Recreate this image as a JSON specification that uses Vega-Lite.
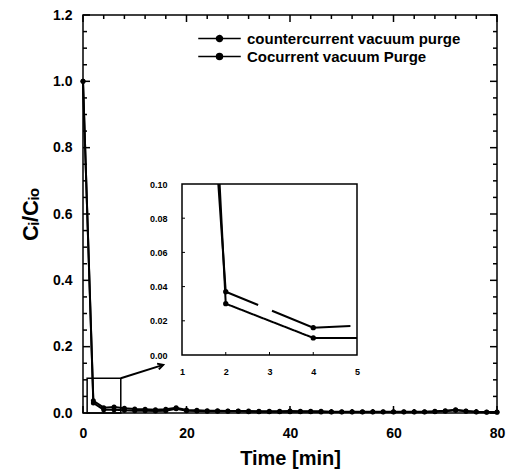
{
  "$schema": "https://vega.github.io/schema/vega-lite/v6.json",
  "width": 414,
  "height": 398,
  "autosize": "none",
  "padding": {"left": 83, "top": 15, "right": 9, "bottom": 60},
  "background": "white",
  "config": {
    "font": "Liberation Sans",
    "view": {"stroke": "black", "strokeWidth": 1.5},
    "axis": {"grid": false, "domain": false, "ticks": false, "tickSize": 0, "labelColor": "black", "titleColor": "black", "labelFontWeight": "bold", "titleFontWeight": "bold", "labelOverlap": false, "labelFlush": false},
    "legend": {"labelFontSize": 15, "labelFontWeight": "bold", "labelColor": "black", "labelLimit": 0}
  },
  "datasets": {
    "xMajor": [{"t": 0}, {"t": 20}, {"t": 40}, {"t": 60}, {"t": 80}],
    "xMinor": [{"t": 4}, {"t": 8}, {"t": 12}, {"t": 16}, {"t": 24}, {"t": 28}, {"t": 32}, {"t": 36}, {"t": 44}, {"t": 48}, {"t": 52}, {"t": 56}, {"t": 64}, {"t": 68}, {"t": 72}, {"t": 76}],
    "yMajor": [{"v": 0}, {"v": 0.2}, {"v": 0.4}, {"v": 0.6}, {"v": 0.8}, {"v": 1.0}, {"v": 1.2}],
    "yMinor": [{"v": 0.05}, {"v": 0.1}, {"v": 0.15}, {"v": 0.25}, {"v": 0.3}, {"v": 0.35}, {"v": 0.45}, {"v": 0.5}, {"v": 0.55}, {"v": 0.65}, {"v": 0.7}, {"v": 0.75}, {"v": 0.85}, {"v": 0.9}, {"v": 0.95}, {"v": 1.05}, {"v": 1.1}, {"v": 1.15}],
    "insetX": [{"t": 2}, {"t": 3}, {"t": 4}],
    "insetY": [{"v": 0.02}, {"v": 0.04}, {"v": 0.06}, {"v": 0.08}],
    "main": [
      {"t": 0, "v": 1.0, "s": "countercurrent vacuum purge"},
      {"t": 2, "v": 0.030, "s": "countercurrent vacuum purge"},
      {"t": 4, "v": 0.010, "s": "countercurrent vacuum purge"},
      {"t": 6, "v": 0.010, "s": "countercurrent vacuum purge"},
      {"t": 8, "v": 0.008, "s": "countercurrent vacuum purge"},
      {"t": 10, "v": 0.007, "s": "countercurrent vacuum purge"},
      {"t": 12, "v": 0.007, "s": "countercurrent vacuum purge"},
      {"t": 14, "v": 0.006, "s": "countercurrent vacuum purge"},
      {"t": 16, "v": 0.007, "s": "countercurrent vacuum purge"},
      {"t": 18, "v": 0.013, "s": "countercurrent vacuum purge"},
      {"t": 20, "v": 0.007, "s": "countercurrent vacuum purge"},
      {"t": 22, "v": 0.006, "s": "countercurrent vacuum purge"},
      {"t": 24, "v": 0.005, "s": "countercurrent vacuum purge"},
      {"t": 26, "v": 0.005, "s": "countercurrent vacuum purge"},
      {"t": 28, "v": 0.005, "s": "countercurrent vacuum purge"},
      {"t": 30, "v": 0.005, "s": "countercurrent vacuum purge"},
      {"t": 32, "v": 0.004, "s": "countercurrent vacuum purge"},
      {"t": 34, "v": 0.004, "s": "countercurrent vacuum purge"},
      {"t": 36, "v": 0.004, "s": "countercurrent vacuum purge"},
      {"t": 38, "v": 0.004, "s": "countercurrent vacuum purge"},
      {"t": 40, "v": 0.004, "s": "countercurrent vacuum purge"},
      {"t": 42, "v": 0.004, "s": "countercurrent vacuum purge"},
      {"t": 44, "v": 0.004, "s": "countercurrent vacuum purge"},
      {"t": 46, "v": 0.003, "s": "countercurrent vacuum purge"},
      {"t": 48, "v": 0.003, "s": "countercurrent vacuum purge"},
      {"t": 50, "v": 0.003, "s": "countercurrent vacuum purge"},
      {"t": 52, "v": 0.003, "s": "countercurrent vacuum purge"},
      {"t": 54, "v": 0.003, "s": "countercurrent vacuum purge"},
      {"t": 56, "v": 0.003, "s": "countercurrent vacuum purge"},
      {"t": 58, "v": 0.003, "s": "countercurrent vacuum purge"},
      {"t": 60, "v": 0.003, "s": "countercurrent vacuum purge"},
      {"t": 62, "v": 0.003, "s": "countercurrent vacuum purge"},
      {"t": 64, "v": 0.003, "s": "countercurrent vacuum purge"},
      {"t": 66, "v": 0.003, "s": "countercurrent vacuum purge"},
      {"t": 68, "v": 0.004, "s": "countercurrent vacuum purge"},
      {"t": 70, "v": 0.005, "s": "countercurrent vacuum purge"},
      {"t": 72, "v": 0.008, "s": "countercurrent vacuum purge"},
      {"t": 74, "v": 0.005, "s": "countercurrent vacuum purge"},
      {"t": 76, "v": 0.003, "s": "countercurrent vacuum purge"},
      {"t": 78, "v": 0.002, "s": "countercurrent vacuum purge"},
      {"t": 80, "v": 0.002, "s": "countercurrent vacuum purge"},
      {"t": 0, "v": 1.0, "s": "Cocurrent vacuum Purge"},
      {"t": 2, "v": 0.037, "s": "Cocurrent vacuum Purge"},
      {"t": 4, "v": 0.016, "s": "Cocurrent vacuum Purge"},
      {"t": 6, "v": 0.018, "s": "Cocurrent vacuum Purge"},
      {"t": 8, "v": 0.014, "s": "Cocurrent vacuum Purge"},
      {"t": 10, "v": 0.012, "s": "Cocurrent vacuum Purge"},
      {"t": 12, "v": 0.011, "s": "Cocurrent vacuum Purge"},
      {"t": 14, "v": 0.010, "s": "Cocurrent vacuum Purge"},
      {"t": 16, "v": 0.011, "s": "Cocurrent vacuum Purge"},
      {"t": 18, "v": 0.016, "s": "Cocurrent vacuum Purge"},
      {"t": 20, "v": 0.009, "s": "Cocurrent vacuum Purge"},
      {"t": 22, "v": 0.008, "s": "Cocurrent vacuum Purge"},
      {"t": 24, "v": 0.007, "s": "Cocurrent vacuum Purge"},
      {"t": 26, "v": 0.007, "s": "Cocurrent vacuum Purge"},
      {"t": 28, "v": 0.006, "s": "Cocurrent vacuum Purge"},
      {"t": 30, "v": 0.006, "s": "Cocurrent vacuum Purge"},
      {"t": 32, "v": 0.006, "s": "Cocurrent vacuum Purge"},
      {"t": 34, "v": 0.005, "s": "Cocurrent vacuum Purge"},
      {"t": 36, "v": 0.005, "s": "Cocurrent vacuum Purge"},
      {"t": 38, "v": 0.005, "s": "Cocurrent vacuum Purge"},
      {"t": 40, "v": 0.006, "s": "Cocurrent vacuum Purge"},
      {"t": 42, "v": 0.005, "s": "Cocurrent vacuum Purge"},
      {"t": 44, "v": 0.005, "s": "Cocurrent vacuum Purge"},
      {"t": 46, "v": 0.005, "s": "Cocurrent vacuum Purge"},
      {"t": 48, "v": 0.004, "s": "Cocurrent vacuum Purge"},
      {"t": 50, "v": 0.004, "s": "Cocurrent vacuum Purge"},
      {"t": 52, "v": 0.004, "s": "Cocurrent vacuum Purge"},
      {"t": 54, "v": 0.004, "s": "Cocurrent vacuum Purge"},
      {"t": 56, "v": 0.004, "s": "Cocurrent vacuum Purge"},
      {"t": 58, "v": 0.004, "s": "Cocurrent vacuum Purge"},
      {"t": 60, "v": 0.004, "s": "Cocurrent vacuum Purge"},
      {"t": 62, "v": 0.004, "s": "Cocurrent vacuum Purge"},
      {"t": 64, "v": 0.004, "s": "Cocurrent vacuum Purge"},
      {"t": 66, "v": 0.004, "s": "Cocurrent vacuum Purge"},
      {"t": 68, "v": 0.005, "s": "Cocurrent vacuum Purge"},
      {"t": 70, "v": 0.007, "s": "Cocurrent vacuum Purge"},
      {"t": 72, "v": 0.010, "s": "Cocurrent vacuum Purge"},
      {"t": 74, "v": 0.006, "s": "Cocurrent vacuum Purge"},
      {"t": 76, "v": 0.004, "s": "Cocurrent vacuum Purge"},
      {"t": 78, "v": 0.003, "s": "Cocurrent vacuum Purge"},
      {"t": 80, "v": 0.003, "s": "Cocurrent vacuum Purge"}
    ],
    "inset": [
      {"t": 1.86, "v": 0.100, "s": "countercurrent vacuum purge"},
      {"t": 2, "v": 0.030, "s": "countercurrent vacuum purge"},
      {"t": 4, "v": 0.010, "s": "countercurrent vacuum purge"},
      {"t": 5, "v": 0.010, "s": "countercurrent vacuum purge"},
      {"t": 1.83, "v": 0.100, "s": "Cocurrent vacuum Purge"},
      {"t": 2, "v": 0.037, "s": "Cocurrent vacuum Purge"},
      {"t": 4, "v": 0.016, "s": "Cocurrent vacuum Purge"},
      {"t": 4.85, "v": 0.017, "s": "Cocurrent vacuum Purge"}
    ]
  },
  "resolve": {"scale": {"x": "independent", "y": "independent"}, "axis": {"x": "independent", "y": "independent"}},
  "layer": [
    {
      "layer": [
        {
          "data": {"name": "main"},
          "mark": {"type": "line", "strokeWidth": 2},
          "encoding": {
            "x": {"field": "t", "type": "quantitative", "title": "Time [min]",
              "scale": {"domain": [0, 80], "nice": false},
              "axis": {"orient": "bottom", "values": [0,20,40,60,80], "format": "d",
                "labelFontSize": 14, "labelPadding": 13, "titleFontSize": 20, "titlePadding": 8}},
            "y": {"field": "v", "type": "quantitative", "title": "Cᵢ/Cᵢₒ",
              "scale": {"domain": [0, 1.2], "nice": false},
              "axis": {"orient": "left", "values": [0,0.2,0.4,0.6,0.8,1.0,1.2], "format": ".1f",
                "labelFontSize": 14, "labelPadding": 11, "titleFontSize": 22, "titlePadding": 10}},
            "color": {"field": "s", "type": "nominal", "sort": ["countercurrent vacuum purge", "Cocurrent vacuum Purge"],
              "scale": {"domain": ["countercurrent vacuum purge", "Cocurrent vacuum Purge"], "range": ["black", "black"]},
              "legend": {"title": null, "orient": "none", "legendX": 127, "legendY": 14,
                "symbolType": "M-2.5,0H2.5M0.35,0A0.35,0.35,0,1,1,-0.35,0A0.35,0.35,0,1,1,0.35,0Z",
                "symbolSize": 289, "symbolStrokeWidth": 1.5, "symbolFillColor": "black", "symbolStrokeColor": "black",
                "rowPadding": -3, "labelOffset": 18, "labelLimit": 0}}
          }
        },
        {
          "data": {"name": "main"},
          "mark": {"type": "point", "filled": true, "size": 25, "color": "black", "opacity": 1},
          "encoding": {
            "x": {"field": "t", "type": "quantitative", "title": "Time [min]"},
            "y": {"field": "v", "type": "quantitative", "title": "Cᵢ/Cᵢₒ"}
          }
        },
        {
          "data": {"name": "xMajor"},
          "mark": {"type": "rule", "stroke": "black", "strokeWidth": 1.5, "y2Offset": -7},
          "encoding": {
            "x": {"field": "t", "type": "quantitative", "title": "Time [min]"},
            "y": {"datum": 0, "type": "quantitative"},
            "y2": {"datum": 0}
          }
        },
        {
          "data": {"name": "xMajor"},
          "mark": {"type": "rule", "stroke": "black", "strokeWidth": 1.5, "y2Offset": 7},
          "encoding": {
            "x": {"field": "t", "type": "quantitative", "title": "Time [min]"},
            "y": {"datum": 1.2, "type": "quantitative"},
            "y2": {"datum": 1.2}
          }
        },
        {
          "data": {"name": "xMinor"},
          "mark": {"type": "rule", "stroke": "black", "strokeWidth": 1.5, "y2Offset": -4},
          "encoding": {
            "x": {"field": "t", "type": "quantitative", "title": "Time [min]"},
            "y": {"datum": 0, "type": "quantitative"},
            "y2": {"datum": 0}
          }
        },
        {
          "data": {"name": "xMinor"},
          "mark": {"type": "rule", "stroke": "black", "strokeWidth": 1.5, "y2Offset": 4},
          "encoding": {
            "x": {"field": "t", "type": "quantitative", "title": "Time [min]"},
            "y": {"datum": 1.2, "type": "quantitative"},
            "y2": {"datum": 1.2}
          }
        },
        {
          "data": {"name": "yMajor"},
          "mark": {"type": "rule", "stroke": "black", "strokeWidth": 1.5, "x2Offset": 7},
          "encoding": {
            "y": {"field": "v", "type": "quantitative", "title": "Cᵢ/Cᵢₒ"},
            "x": {"datum": 0, "type": "quantitative"},
            "x2": {"datum": 0}
          }
        },
        {
          "data": {"name": "yMajor"},
          "mark": {"type": "rule", "stroke": "black", "strokeWidth": 1.5, "x2Offset": -7},
          "encoding": {
            "y": {"field": "v", "type": "quantitative", "title": "Cᵢ/Cᵢₒ"},
            "x": {"datum": 80, "type": "quantitative"},
            "x2": {"datum": 80}
          }
        },
        {
          "data": {"name": "yMinor"},
          "mark": {"type": "rule", "stroke": "black", "strokeWidth": 1.5, "x2Offset": 4},
          "encoding": {
            "y": {"field": "v", "type": "quantitative", "title": "Cᵢ/Cᵢₒ"},
            "x": {"datum": 0, "type": "quantitative"},
            "x2": {"datum": 0}
          }
        },
        {
          "data": {"name": "yMinor"},
          "mark": {"type": "rule", "stroke": "black", "strokeWidth": 1.5, "x2Offset": -4},
          "encoding": {
            "y": {"field": "v", "type": "quantitative", "title": "Cᵢ/Cᵢₒ"},
            "x": {"datum": 80, "type": "quantitative"},
            "x2": {"datum": 80}
          }
        },
        {
          "data": {"values": [{"x1": 0.8, "x2": 7.3, "y1": 0, "y2": 0.105}]},
          "mark": {"type": "rect", "fill": null, "fillOpacity": 0, "stroke": "black", "strokeWidth": 1.5},
          "encoding": {
            "x": {"field": "x1", "type": "quantitative", "title": "Time [min]"},
            "x2": {"field": "x2"},
            "y": {"field": "y1", "type": "quantitative", "title": "Cᵢ/Cᵢₒ"},
            "y2": {"field": "y2"}
          }
        },
        {
          "data": {"values": [{"x1": 7.3, "y1": 0.105, "x2": 15.5, "y2": 0.145}]},
          "mark": {"type": "rule", "stroke": "black", "strokeWidth": 2},
          "encoding": {
            "x": {"field": "x1", "type": "quantitative", "title": "Time [min]"},
            "x2": {"field": "x2"},
            "y": {"field": "y1", "type": "quantitative", "title": "Cᵢ/Cᵢₒ"},
            "y2": {"field": "y2"}
          }
        },
        {
          "data": {"values": [{"x": 15.5, "y": 0.145}]},
          "mark": {"type": "point", "shape": "M-1,-0.55L0,0L-1,0.55", "size": 120, "angle": 343, "filled": false, "stroke": "black", "strokeWidth": 2, "opacity": 1},
          "encoding": {
            "x": {"field": "x", "type": "quantitative", "title": "Time [min]"},
            "y": {"field": "y", "type": "quantitative", "title": "Cᵢ/Cᵢₒ"}
          }
        }
      ]
    },
    {
      "layer": [
        {
          "data": {"values": [{"x1": 1, "x2": 5, "y1": 0, "y2": 0.1}]},
          "mark": {"type": "rect", "fill": "white", "stroke": "black", "strokeWidth": 1.5},
          "encoding": {
            "x": {"field": "x1", "type": "quantitative",
              "scale": {"domain": [1, 5], "range": [99, 274], "nice": false, "zero": false},
              "axis": {"orient": "bottom", "offset": -58, "title": null, "values": [1,2,3,4,5], "format": "d",
                "labelFontSize": 9, "labelPadding": 12}},
            "x2": {"field": "x2"},
            "y": {"field": "y1", "type": "quantitative",
              "scale": {"domain": [0, 0.1], "range": [340, 169], "nice": false},
              "axis": {"orient": "left", "offset": -99, "title": null, "values": [0,0.02,0.04,0.06,0.08,0.1], "format": ".2f",
                "labelFontSize": 9, "labelPadding": 15}},
            "y2": {"field": "y2"}
          }
        },
        {
          "data": {"name": "insetX"},
          "mark": {"type": "rule", "stroke": "black", "strokeWidth": 1, "y2Offset": -3},
          "encoding": {
            "x": {"field": "t", "type": "quantitative"},
            "y": {"datum": 0, "type": "quantitative"},
            "y2": {"datum": 0}
          }
        },
        {
          "data": {"name": "insetY"},
          "mark": {"type": "rule", "stroke": "black", "strokeWidth": 1, "x2Offset": 3},
          "encoding": {
            "y": {"field": "v", "type": "quantitative"},
            "x": {"datum": 1, "type": "quantitative"},
            "x2": {"datum": 1}
          }
        },
        {
          "data": {"name": "inset"},
          "mark": {"type": "line", "strokeWidth": 2, "color": "black"},
          "encoding": {
            "x": {"field": "t", "type": "quantitative"},
            "y": {"field": "v", "type": "quantitative"},
            "detail": {"field": "s"},
            "strokeDash": {"field": "s", "type": "nominal", "legend": null,
              "scale": {"domain": ["countercurrent vacuum purge", "Cocurrent vacuum Purge"], "range": [[1, 0], [143, 15]]}}
          }
        },
        {
          "data": {"name": "inset"},
          "transform": [{"filter": "datum.t == 2 || datum.t == 4"}],
          "mark": {"type": "point", "filled": true, "size": 28, "color": "black", "opacity": 1},
          "encoding": {
            "x": {"field": "t", "type": "quantitative"},
            "y": {"field": "v", "type": "quantitative"}
          }
        }
      ]
    }
  ]
}
